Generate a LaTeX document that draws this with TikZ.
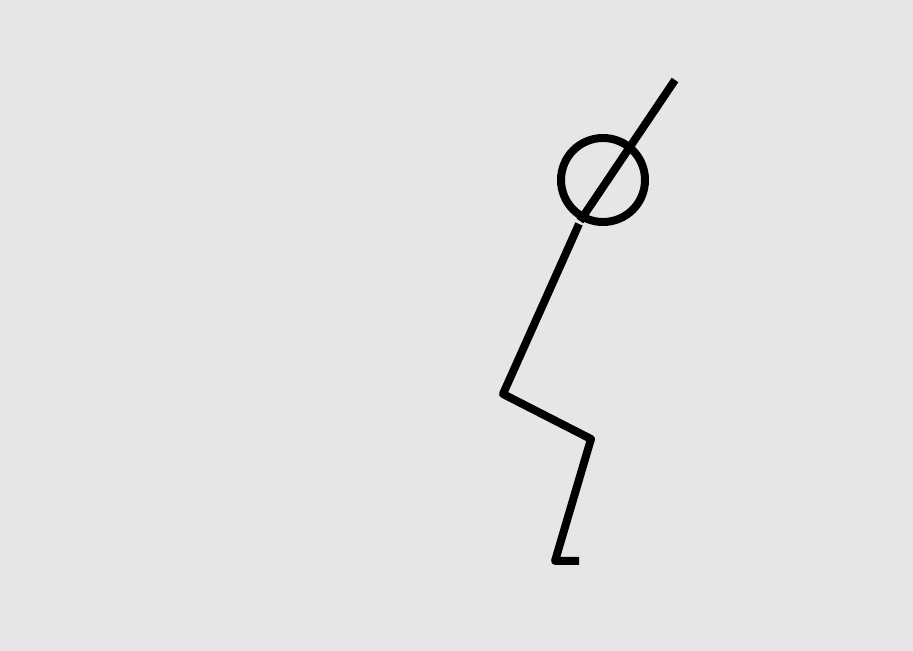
\documentclass[tikz,border=0pt]{standalone}
\definecolor{bggray}{RGB}{230,230,232}
\begin{document}
\begin{tikzpicture}[x=0.02cm,y=-0.02cm]
                    % Background
                    \fill [bggray] (0,0) rectangle (913,651);%
                    \useasboundingbox (0,0) rectangle (913,651);%

                    % Joints of the figure
                    \coordinate (stafftop) at (675.000000,80.000000);
                    \coordinate (staffbot) at (580.000000,221.000000);
                    \coordinate (hip) at (579.000000,224.000000);
                    \coordinate (knee) at (503.000000,394.000000);
                    \coordinate (ankle) at (591.000000,439.000000);
                    \coordinate (heel) at (555.000000,561.000000);
                    \coordinate (toe) at (579.000000,561.000000);

                    % Drawing head by circle
                    \draw [line width=0.16cm] (603.000000,180.000000) circle (42.000000);%

                    % Drawing line through head
                    \draw [line width=0.16cm] (stafftop) -- (staffbot);%

                    % Drawing body and leg
                    \draw [line width=0.16cm, line join=round] (hip) -- (knee) -- (ankle) -- (heel) -- (toe);%
\end{tikzpicture}
\end{document}
